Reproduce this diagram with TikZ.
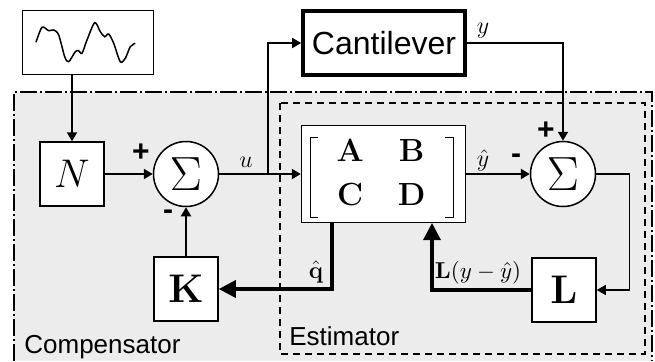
\documentclass[tikz,border=0pt]{standalone}
\usepackage{fix-cm}
\usepackage{amsmath}
\usepackage[no-math]{fontspec}
\newfontfamily\helv{Liberation Sans}
\usetikzlibrary{arrows.meta}

\begin{document}
\begin{tikzpicture}[x=0.5pt, y=-0.5pt, >={Triangle[length=4.5pt,width=5pt]},
  box/.style={draw, fill=white, line width=0.75pt, inner sep=0pt},
  sumnode/.style={draw, circle, fill=white, line width=0.75pt, minimum size=32.5pt, inner sep=0pt, font=\fontsize{24}{24}\selectfont},
  gain/.style={box, minimum size=32pt, font=\fontsize{20}{20}\selectfont},
  sig/.style={line width=1.1pt},
  wire/.style={line width=0.9pt},
  bus/.style={line width=1.6pt, -{Triangle[length=8.5pt,width=8.5pt]}},
  lbl/.style={font=\fontsize{12}{12}\selectfont, inner sep=0pt},
  pm/.style={font=\helv\bfseries\fontsize{15}{15}\selectfont, inner sep=0pt},
  area/.style={font=\helv\fontsize{13}{13}\selectfont, anchor=base west, inner sep=0pt}]
	\useasboundingbox (0,0) rectangle (655,361);
	\fill[gray!15] (14,92) rectangle (652,361);
	\draw[line width=0.75pt, dash pattern=on 8.5pt off 1.5pt on 1pt off 1.5pt] (14,361) -- (14,92) -- (652,92) -- (652,361);
	\draw[line width=0.75pt, dash pattern=on 3.5pt off 2.5pt] (280,103) rectangle (645,354);
	\node[box, minimum width=65.5pt, minimum height=32pt] (noise) at (88,42.5) {};
	\draw[line width=0.75pt] plot[smooth] coordinates {(36,42.3) (42,27.3) (48.7,30.7) (53.7,30) (58.7,35) (64.7,56.7) (68.7,61.7) (75.3,51.7) (78.7,50.7) (82,53.3) (87,40) (94.7,22.7) (100.3,31.7) (104.7,36.7) (108.7,34) (113.7,43.3) (120.3,61.7) (125.3,58.3) (130.3,46.7) (135.3,43.3)};
	\node[gain] (N) at (72,174) {$N$};
	\node[sumnode] (sum1) at (186,174) {$\Sigma$};
	\node[gain] (K) at (186,289) {$\mathbf{K}$};
	\node[box, line width=1.8pt, minimum width=81pt, minimum height=32pt, font=\helv\fontsize{16}{16}\selectfont] (plant) at (384,43) {Cantilever};
	\node[box, minimum width=82pt, minimum height=48.5pt, font=\fontsize{16}{22}\selectfont] (est) at (383.5,174) {};
	\node[font=\fontsize{16}{22}\selectfont, inner sep=0pt] (abcd) at (381,175)
	  {$\setlength{\arraycolsep}{8.5pt}\begin{array}{cc}\mathbf{A} & \mathbf{B}\\ \mathbf{C} & \mathbf{D}\end{array}$};
	\draw[line width=0.5pt] (318,137) -- (310,137) -- (310,217) -- (318,217);
	\draw[line width=0.5pt] (445,137) -- (453,137) -- (453,217) -- (445,217);
	\node[sumnode] (sum2) at (563,174) {$\Sigma$};
	\node[gain] (L) at (564,290) {$\mathbf{L}$};
	\coordinate (split) at (268,174);
	\coordinate (lin) at (432,223);
	\coordinate (qout) at (332,223);
	\draw[sig, ->] (N.north |- noise.south) -- (N.north);
	\draw[sig, ->] (N) -- (sum1);
	\draw[sig, ->] (sum1) -- (est);
	\draw[wire, ->] (split) |- (plant);
	\draw[wire, ->] (plant) -| (sum2);
	\draw[sig, ->] (est) -- (sum2);
	\draw[line width=0.75pt, ->] (sum2.east) -- ++(33,0) |- (L.east);
	\draw[bus] (L.west) -| (lin);
	\draw[bus] (qout) |- (K.east);
	\draw[wire, ->] (K) -- (sum1);
	\node[lbl] (u) at (246,162) {$u$};
	\node[lbl] (y) at (483,31) {$y$};
	\node[lbl] (yhat) at (483,160) {$\hat{y}$};
	\node[lbl] (qhat) at (316,272) {$\hat{\mathbf{q}}$};
	\node[lbl, font=\fontsize{11.5}{12}\selectfont] (innov) at (478,273) {$\mathbf{L}(y-\hat{y})$};
	\node[pm] (p1) at (141,153) {+};
	\node[pm] (m1) at (168,215) {-};
	\node[pm] (p2) at (546,131) {+};
	\node[pm] (m2) at (516,159) {-};
	\node[area] (comp) at (24,353) {Compensator};
	\node[area] (estlbl) at (289,345) {Estimator};
\end{tikzpicture}
\end{document}
